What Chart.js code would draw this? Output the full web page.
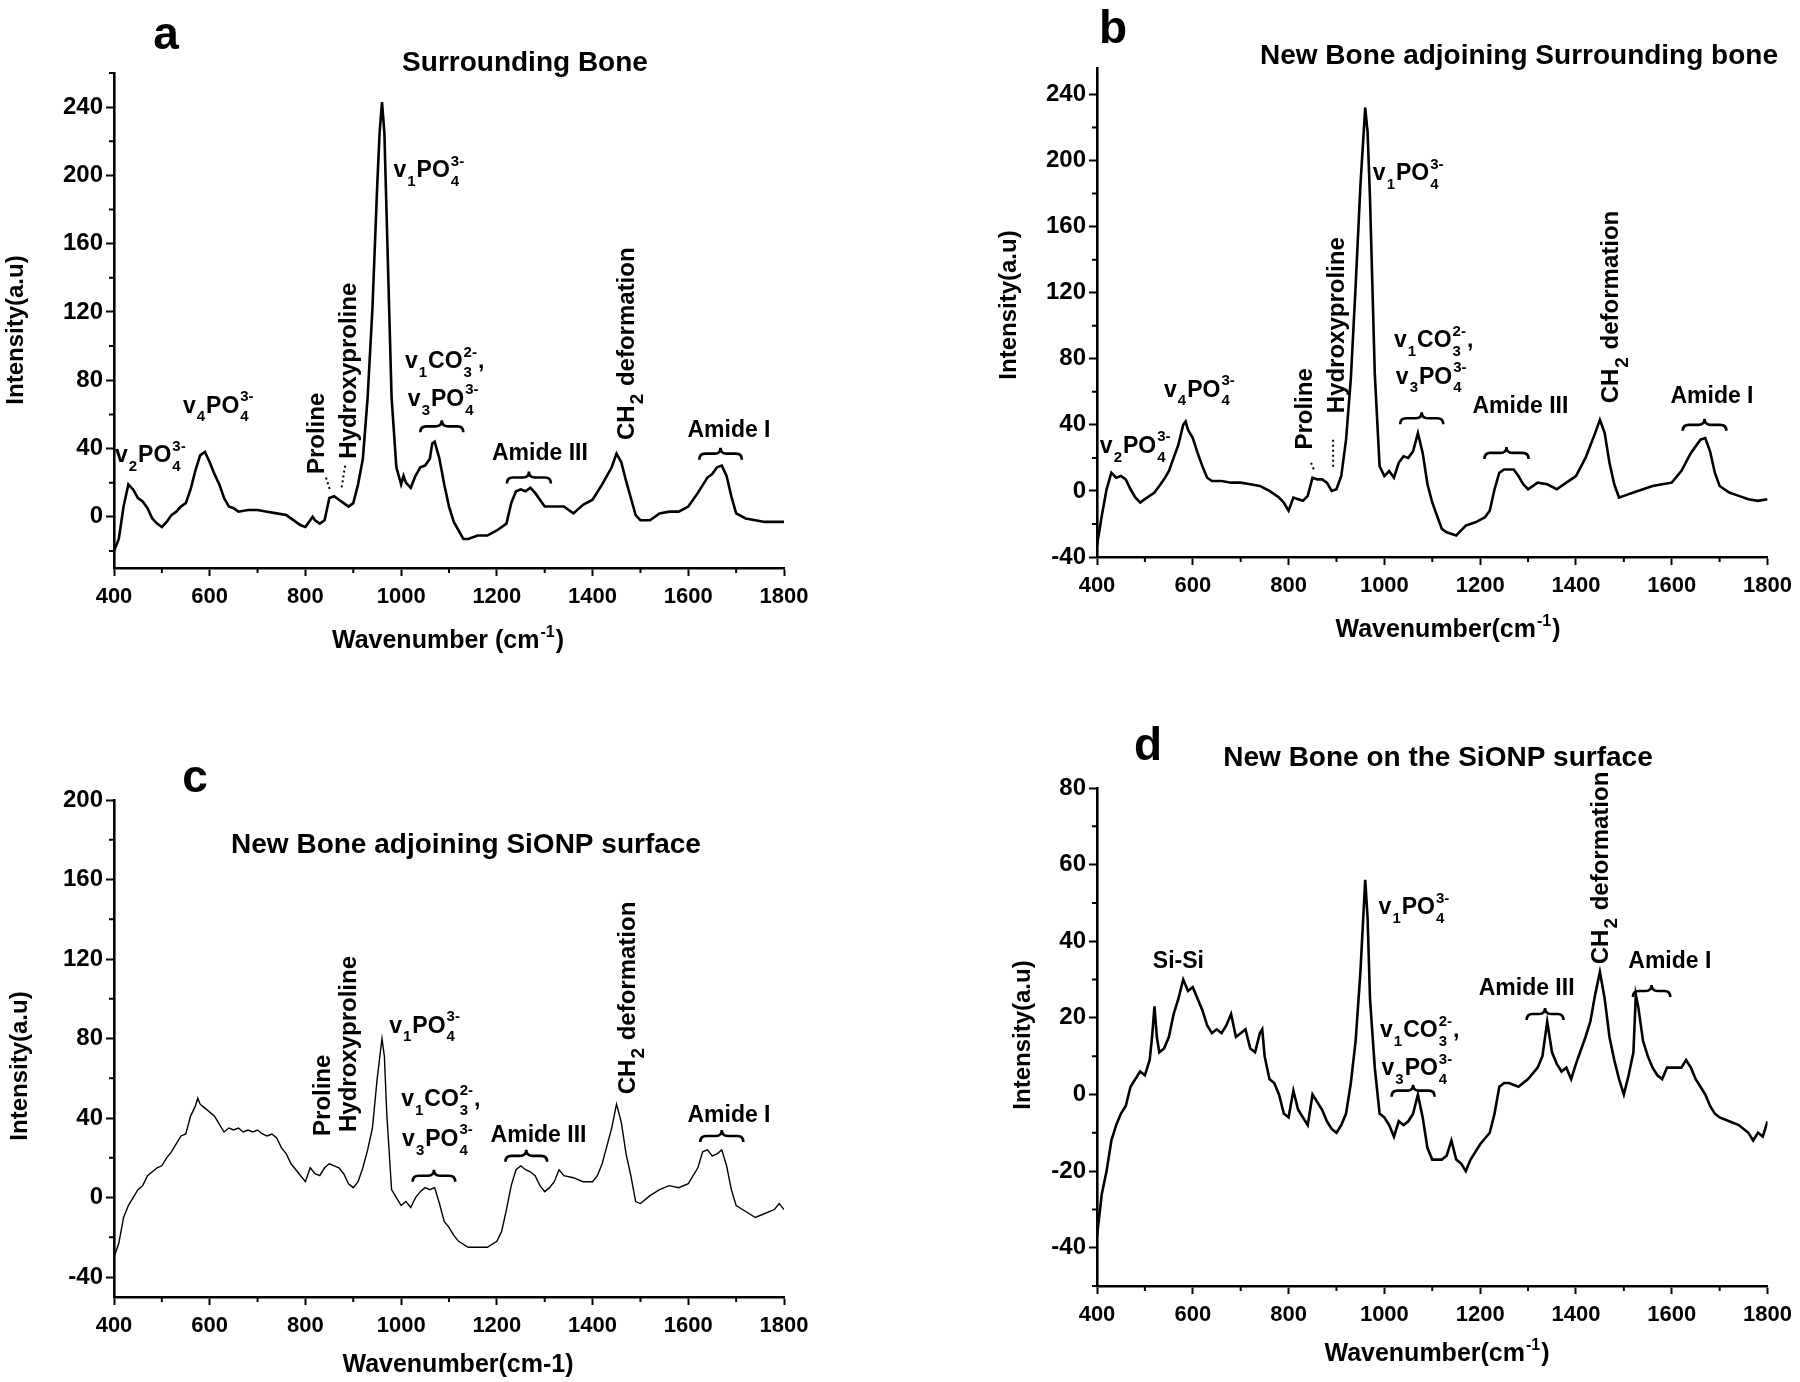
<!DOCTYPE html>
<html>
<head>
<meta charset="utf-8">
<title>Raman spectra</title>
<script src="https://cdn.jsdelivr.net/npm/chart.js@4.4.1/dist/chart.umd.min.js"></script>
<style>
    html, body { margin: 0; padding: 0; background: #fff; }
    #wrap { position: relative; width: 1800px; height: 1382px; background: #fff; }
    #wrap canvas { position: absolute; }
</style>
</head>
<body>
<div id="wrap">
    <canvas id="chartA" width="900" height="691" style="left:0;top:0"></canvas>
    <canvas id="chartB" width="900" height="691" style="left:900px;top:0"></canvas>
    <canvas id="chartC" width="900" height="691" style="left:0;top:691px"></canvas>
    <canvas id="chartD" width="900" height="691" style="left:900px;top:691px"></canvas>
</div>
<script>
// Spectra (wavenumber cm-1 / intensity a.u.)

// a - Surrounding Bone
const waveA = [400,410,420,430,440,450,460,470,480,490,
    500,510,520,530,540,550,560,570,580,590,
    600,610,620,630,640,650,660,680,700,720,
    740,760,780,790,800,810,815,820,830,840,
    850,860,870,880,890,900,910,920,930,940,
    950,955,960,965,970,980,990,1000,1005,1010,
    1020,1030,1040,1050,1060,1065,1070,1080,1090,1100,
    1110,1120,1130,1140,1160,1180,1200,1220,1230,1240,
    1250,1260,1270,1280,1290,1300,1320,1340,1360,1380,
    1400,1420,1440,1450,1460,1470,1480,1490,1500,1520,
    1540,1560,1580,1600,1620,1640,1650,1660,1670,1680,
    1690,1700,1720,1740,1760,1780,1800];
const intA = [-20,-13,6,19,16,11,9,5,-1,-4,
    -6,-3,1,3,6,8,16,27,36,38,
    32,25,19,11,6,5,3,4,4,3,
    2,1,-3,-5,-6,-2,0,-2,-4,-2,
    11,12,10,8,6,8,19,34,70,122,
    194,225,243,225,173,70,29,19,24,20,
    17,24,29,30,34,43,44,34,19,6,
    -3,-8,-13,-13,-11,-11,-8,-4,8,15,
    16,15,17,14,10,6,6,6,2,7,
    10,19,29,37,32,21,11,1,-2,-2,
    2,3,3,6,14,23,25,29,30,24,
    12,2,-1,-2,-3,-3,-3];

// b - New Bone adjoining Surrounding bone
const waveB = [400,410,420,430,440,450,460,470,480,490,
    500,520,530,540,550,560,570,580,585,590,
    600,610,620,630,640,660,680,700,720,740,
    760,780,790,800,810,820,830,840,850,860,
    870,880,890,900,910,920,930,940,950,960,
    965,970,980,990,1000,1010,1020,1030,1040,1050,
    1060,1070,1080,1090,1100,1110,1120,1130,1150,1170,
    1190,1210,1220,1230,1240,1250,1260,1270,1280,1290,
    1300,1320,1340,1360,1380,1400,1420,1440,1450,1460,
    1470,1480,1490,1500,1520,1540,1560,1580,1600,1620,
    1640,1660,1670,1680,1690,1700,1720,1740,1760,1780,
    1800];
const intB = [-33,-15,1,11,8,9,7,1,-4,-7,
    -5,-1,3,7,12,20,28,40,42,37,
    32,23,15,8,6,6,5,5,4,3,
    0,-4,-7,-12,-4,-5,-6,-3,8,7,
    7,5,0,1,9,31,68,124,185,232,
    217,177,71,15,9,12,8,17,21,20,
    24,35,23,4,-7,-15,-23,-25,-27,-21,
    -19,-16,-12,1,11,13,13,13,9,4,
    1,5,4,1,5,9,20,35,43,35,
    17,4,-4,-3,-1,1,3,4,5,12,
    23,31,32,24,11,3,-1,-3,-5,-6,
    -5];

// c - New Bone adjoining SiONP surface
const waveC = [400,410,420,430,440,450,460,470,480,490,
    500,510,520,530,540,550,560,570,575,580,
    590,600,610,620,630,640,650,660,670,680,
    690,700,710,720,730,740,750,760,770,780,
    790,800,810,820,830,840,850,860,870,880,
    890,900,910,920,930,940,950,960,965,970,
    980,990,1000,1010,1020,1030,1040,1050,1060,1070,
    1080,1090,1100,1110,1120,1140,1160,1180,1200,1210,
    1220,1230,1240,1250,1260,1270,1280,1290,1300,1310,
    1320,1330,1340,1360,1380,1400,1410,1420,1430,1440,
    1450,1460,1470,1480,1490,1500,1520,1540,1560,1580,
    1600,1620,1630,1640,1650,1660,1670,1680,1690,1700,
    1720,1740,1760,1780,1790,1800];
const intC = [-30,-23,-10,-4,0,4,6,11,13,15,
    16,20,23,27,31,32,41,46,50,47,
    45,43,41,37,33,35,34,35,33,34,
    33,34,32,31,32,30,25,22,17,14,
    11,8,15,12,11,15,17,16,15,12,
    7,5,8,15,24,35,60,80,71,42,
    4,0,-4,-2,-5,0,3,5,4,5,
    -3,-12,-15,-19,-22,-25,-25,-25,-22,-17,
    -6,6,14,16,14,13,11,6,3,5,
    8,14,11,10,8,8,11,17,26,35,
    47,38,22,11,-2,-3,1,4,6,5,
    7,15,23,24,21,22,24,16,4,-4,
    -7,-10,-8,-6,-3,-6];

// d - New Bone on the SiONP surface
const waveD = [400,410,420,430,440,450,460,470,480,490,
    500,510,515,520,525,530,540,550,560,570,
    580,590,600,610,620,630,640,650,660,670,
    680,690,700,710,720,730,740,745,750,760,
    770,780,790,800,810,820,830,840,850,860,
    870,880,890,900,910,920,930,940,950,960,
    965,970,980,990,1000,1010,1020,1030,1040,1050,
    1060,1070,1080,1090,1100,1120,1130,1140,1150,1160,
    1170,1180,1200,1220,1230,1240,1250,1260,1280,1300,
    1320,1330,1340,1350,1360,1370,1380,1390,1400,1420,
    1430,1440,1450,1460,1470,1480,1490,1500,1510,1520,
    1525,1530,1540,1550,1560,1570,1580,1590,1600,1620,
    1630,1640,1650,1660,1670,1680,1690,1700,1720,1740,
    1760,1770,1780,1790,1800];
const intD = [-37,-26,-20,-12,-8,-5,-3,2,4,6,
    5,9,15,23,15,11,12,15,21,25,
    30,27,28,25,22,18,16,17,16,18,
    21,15,16,17,12,11,16,17,10,4,
    3,0,-5,-6,1,-4,-6,-8,0,-2,
    -4,-7,-9,-10,-8,-5,3,14,32,56,
    46,25,7,-5,-6,-8,-11,-7,-8,-7,
    -5,0,-6,-14,-17,-17,-16,-12,-17,-18,
    -20,-17,-13,-10,-5,2,3,3,2,4,
    7,10,19,11,8,6,7,4,8,15,
    19,26,32,25,15,9,4,0,5,11,
    26,23,14,10,7,5,4,7,7,7,
    9,7,4,2,0,-3,-5,-6,-7,-8,
    -10,-12,-10,-11,-7];

// tick labels
const xTicks = [400, 600, 800, 1000, 1200, 1400, 1600, 1800];
const yTicksA = [0, 40, 80, 120, 160, 200, 240];
const yTicksB = [-40, 0, 40, 80, 120, 160, 200, 240];
const yTicksC = [-40, 0, 40, 80, 120, 160, 200];
const yTicksD = [-40, -20, 0, 20, 40, 60, 80];

const FONT = "'Liberation Sans', Arial, Helvetica, sans-serif";

// pieces for labels with sub/superscripts
function vPO4(n) {
    return [{ t: 'v' }, { t: String(n), k: 'sub' }, { t: 'PO' }, { t: '4', k: 'ss', sup: '3-' }];
}
const vCO3 = [{ t: 'v' }, { t: '1', k: 'sub' }, { t: 'CO' }, { t: '3', k: 'ss', sup: '2-' }, { t: ',' }];
const ch2 = [{ t: 'CH' }, { t: '2', k: 'sub', s: 19 }, { t: ' deformation' }];
function waveTitle(sp) {
    return [{ t: 'Wavenumber' + sp + '(cm', s: 25 }, { t: '-1', k: 'sup', s: 16 }, { t: ')', s: 25 }];
}
const txt = (t) => [{ t: t }];

// layout + annotations of each panel (annotation x/y are data values)
const PANELS = {
    chartA: {
        area: { left: 114, right: 784, top: 73, bottom: 568 },
        yMin: -30, yMax: 260, yTicks: yTicksA, yMinor: 20, line: 2.6,
        letter: { t: 'a', x: 166, y: 36 },
        title: { t: 'Surrounding Bone', x: 525, y: 63 },
        xTitle: { parts: waveTitle(' '), x: 448, y: 639 },
        yTitle: { t: 'Intensity(a.u)', x: 16, y: 330 },
        labels: [
            { x: 402, y: 32, parts: vPO4(2) },
            { x: 544, y: 61, parts: vPO4(4) },
            { x: 822, y: 25, parts: txt('Proline'), rot: true },
            { x: 888, y: 34, parts: txt('Hydroxyproline'), rot: true },
            { x: 984, y: 199, parts: vPO4(1) },
            { x: 1008, y: 87, parts: vCO3 },
            { x: 1014, y: 65, parts: vPO4(3) },
            { x: 1290, y: 33, parts: txt('Amide III'), align: 'center' },
            { x: 1470, y: 45, parts: ch2, rot: true },
            { x: 1685, y: 47, parts: txt('Amide I'), align: 'center' }
        ],
        braces: [[1040, 1130, 53], [1221, 1313, 23], [1623, 1712, 37]],
        dots: [[843, 23, 852, 15], [883, 30, 875, 16]]
    },
    chartB: {
        area: { left: 197, right: 870, top: 68, bottom: 557 },
        yMin: -40, yMax: 256, yTicks: yTicksB, yMinor: 20, line: 2.6,
        letter: { t: 'b', x: 213, y: 30 },
        title: { t: 'New Bone adjoining Surrounding bone', x: 619, y: 56 },
        xTitle: { parts: waveTitle(''), x: 548, y: 628 },
        yTitle: { t: 'Intensity(a.u)', x: 109, y: 305 },
        labels: [
            { x: 406, y: 23, parts: vPO4(2) },
            { x: 540, y: 57, parts: vPO4(4) },
            { x: 832, y: 25, parts: txt('Proline'), rot: true },
            { x: 898, y: 47, parts: txt('Hydroxyproline'), rot: true },
            { x: 976, y: 188, parts: vPO4(1) },
            { x: 1020, y: 87, parts: vCO3 },
            { x: 1024, y: 65, parts: vPO4(3) },
            { x: 1284, y: 47, parts: txt('Amide III'), align: 'center' },
            { x: 1472, y: 53, parts: ch2, rot: true },
            { x: 1684, y: 53, parts: txt('Amide I'), align: 'center' }
        ],
        braces: [[1033, 1123, 44], [1209, 1301, 23], [1623, 1714, 40]],
        dots: [[847, 17, 854, 12], [893, 31, 893, 14]]
    },
    chartC: {
        area: { left: 114, right: 784, top: 109, bottom: 606 },
        yMin: -50, yMax: 200, yTicks: yTicksC, yMinor: 20, line: 1.4,
        letter: { t: 'c', x: 195, y: 88 },
        title: { t: 'New Bone adjoining SiONP surface', x: 466, y: 154 },
        xTitle: { parts: [{ t: 'Wavenumber(cm-1)', s: 25 }], x: 458, y: 672 },
        yTitle: { t: 'Intensity(a.u)', x: 20, y: 375 },
        labels: [
            { x: 834, y: 31, parts: txt('Proline'), rot: true },
            { x: 888, y: 33, parts: txt('Hydroxyproline'), rot: true },
            { x: 975, y: 83, parts: vPO4(1) },
            { x: 1000, y: 46, parts: vCO3 },
            { x: 1002, y: 26, parts: vPO4(3) },
            { x: 1287, y: 28, parts: txt('Amide III'), align: 'center' },
            { x: 1472, y: 52, parts: ch2, rot: true },
            { x: 1685, y: 38, parts: txt('Amide I'), align: 'center' }
        ],
        braces: [[1024, 1113, 11], [1218, 1305, 21], [1625, 1715, 31]],
        dots: []
    },
    chartD: {
        area: { left: 197, right: 870, top: 97, bottom: 595 },
        yMin: -50, yMax: 80, yTicks: yTicksD, yMinor: 10, line: 2.6,
        letter: { t: 'd', x: 248, y: 56 },
        title: { t: 'New Bone on the SiONP surface', x: 538, y: 67 },
        xTitle: { parts: waveTitle(''), x: 537, y: 661 },
        yTitle: { t: 'Intensity(a.u)', x: 123, y: 344 },
        labels: [
            { x: 570, y: 33, parts: txt('Si-Si'), align: 'center' },
            { x: 988, y: 47, parts: vPO4(1) },
            { x: 991, y: 15, parts: vCO3 },
            { x: 994, y: 5, parts: vPO4(3) },
            { x: 1297, y: 26, parts: txt('Amide III'), align: 'center' },
            { x: 1450, y: 34, parts: ch2, rot: true },
            { x: 1596, y: 33, parts: txt('Amide I'), align: 'center' }
        ],
        braces: [[1015, 1105, 1], [1297, 1374, 21], [1519, 1597, 27]],
        dots: []
    }
};

// draw text made of normal / sub / sup pieces, y is the baseline
function drawRich(ctx, parts, x, y, align, size) {
    size = size || 23;
    const small = Math.round(size * 0.66);
    const pieces = parts.map(p => {
        const k = p.k || 'n';
        const fs = p.s || (k === 'n' ? size : small);
        ctx.font = 'bold ' + fs + 'px ' + FONT;
        let w = ctx.measureText(p.t).width;
        if (p.sup) w = Math.max(w, ctx.measureText(p.sup).width);
        return { p: p, k: k, fs: fs, w: k === 'n' ? w : w + 2 };
    });
    const total = pieces.reduce((s, q) => s + q.w, 0);
    let cx = align === 'center' ? x - total / 2 : x;
    ctx.textAlign = 'left';
    ctx.textBaseline = 'alphabetic';
    pieces.forEach(q => {
        ctx.font = 'bold ' + q.fs + 'px ' + FONT;
        if (q.k === 'n') {
            ctx.fillText(q.p.t, cx, y);
        } else if (q.k === 'sup') {
            ctx.fillText(q.p.t, cx + 1, y - size * 0.45);
        } else {
            ctx.fillText(q.p.t, cx + 1, y + size * 0.38);
            if (q.p.sup) ctx.fillText(q.p.sup, cx + 1, y - size * 0.5);
        }
        cx += q.w;
    });
}

// curly brace, tip pointing up
function drawBrace(ctx, x1, x2, y) {
    const xm = (x1 + x2) / 2, h = 6;
    ctx.beginPath();
    ctx.moveTo(x1, y + h);
    ctx.quadraticCurveTo(x1, y, x1 + h, y);
    ctx.lineTo(xm - h, y);
    ctx.quadraticCurveTo(xm, y, xm, y - h);
    ctx.quadraticCurveTo(xm, y, xm + h, y);
    ctx.lineTo(x2 - h, y);
    ctx.quadraticCurveTo(x2, y, x2, y + h);
    ctx.stroke();
}

// minor ticks, titles and peak annotations
const decorPlugin = {
    id: 'decor',
    afterDraw(chart) {
        const cfg = PANELS[chart.canvas.id];
        const ctx = chart.ctx;
        const sx = chart.scales.x, sy = chart.scales.y;
        const area = chart.chartArea;
        ctx.save();
        ctx.fillStyle = '#000';
        ctx.strokeStyle = '#000';

        // minor ticks
        ctx.lineWidth = 2;
        ctx.beginPath();
        for (let v = 500; v < 1800; v += 200) {
            const px = sx.getPixelForValue(v);
            ctx.moveTo(px, area.bottom);
            ctx.lineTo(px, area.bottom + 5);
        }
        const step = cfg.yMinor;
        for (let v = Math.ceil(cfg.yMin / step) * step; v <= cfg.yMax; v += step) {
            if (cfg.yTicks.includes(v)) continue;
            const py = sy.getPixelForValue(v);
            ctx.moveTo(area.left, py);
            ctx.lineTo(area.left - 5, py);
        }
        ctx.stroke();

        // panel letter and title
        ctx.textAlign = 'center';
        ctx.textBaseline = 'middle';
        ctx.font = 'bold 46px ' + FONT;
        ctx.fillText(cfg.letter.t, cfg.letter.x, cfg.letter.y);
        ctx.font = 'bold 28px ' + FONT;
        ctx.fillText(cfg.title.t, cfg.title.x, cfg.title.y);

        // axis titles
        drawRich(ctx, cfg.xTitle.parts, cfg.xTitle.x, cfg.xTitle.y + 9, 'center', 25);
        ctx.save();
        ctx.translate(cfg.yTitle.x, cfg.yTitle.y);
        ctx.rotate(-Math.PI / 2);
        ctx.textAlign = 'center';
        ctx.textBaseline = 'middle';
        ctx.font = 'bold 24px ' + FONT;
        ctx.fillText(cfg.yTitle.t, 0, 0);
        ctx.restore();

        // peak labels
        cfg.labels.forEach(l => {
            const px = sx.getPixelForValue(l.x);
            const py = sy.getPixelForValue(l.y);
            if (l.rot) {
                ctx.save();
                ctx.translate(px, py);
                ctx.rotate(-Math.PI / 2);
                drawRich(ctx, l.parts, 0, 8, 'left', 24);
                ctx.restore();
            } else {
                drawRich(ctx, l.parts, px, py, l.align || 'left', 23);
            }
        });

        // braces
        ctx.lineWidth = 2.6;
        cfg.braces.forEach(b => {
            drawBrace(ctx, sx.getPixelForValue(b[0]), sx.getPixelForValue(b[1]), sy.getPixelForValue(b[2]));
        });

        // dotted leader lines
        ctx.lineWidth = 2;
        ctx.setLineDash([2, 3]);
        cfg.dots.forEach(d => {
            ctx.beginPath();
            ctx.moveTo(sx.getPixelForValue(d[0]), sy.getPixelForValue(d[1]));
            ctx.lineTo(sx.getPixelForValue(d[2]), sy.getPixelForValue(d[3]));
            ctx.stroke();
        });
        ctx.restore();
    }
};

function makeChart(id, waves, values) {
    const cfg = PANELS[id];
    const area = cfg.area;
    const points = waves.map((w, i) => ({ x: w, y: values[i] }));
    return new Chart(document.getElementById(id), {
        type: 'line',
        data: {
            datasets: [{
                data: points,
                borderColor: '#000',
                borderWidth: cfg.line,
                pointRadius: 0,
                tension: 0,
                fill: false
            }]
        },
        options: {
            responsive: false,
            animation: false,
            events: [],
            layout: { padding: { left: 0, top: area.top, right: 900 - area.right, bottom: 0 } },
            plugins: { legend: { display: false }, tooltip: { enabled: false } },
            scales: {
                x: {
                    type: 'linear',
                    min: 400,
                    max: 1800,
                    afterBuildTicks: (s) => { s.ticks = xTicks.map(v => ({ value: v })); },
                    ticks: {
                        color: '#000',
                        font: { family: FONT, size: 22, weight: 'bold' },
                        padding: 8,
                        maxRotation: 0,
                        autoSkip: false,
                        callback: (v) => String(v)
                    },
                    grid: { drawOnChartArea: false, tickLength: 8, tickColor: '#000', tickWidth: 2 },
                    border: { color: '#000', width: 2.6 },
                    afterFit: (s) => { s.height = 691 - area.bottom; }
                },
                y: {
                    type: 'linear',
                    min: cfg.yMin,
                    max: cfg.yMax,
                    afterBuildTicks: (s) => { s.ticks = cfg.yTicks.map(v => ({ value: v })); },
                    ticks: {
                        color: '#000',
                        font: { family: FONT, size: 24, weight: 'bold' },
                        padding: 3,
                        autoSkip: false,
                        callback: (v) => String(v)
                    },
                    grid: { drawOnChartArea: false, tickLength: 8, tickColor: '#000', tickWidth: 2 },
                    border: { color: '#000', width: 2.6 },
                    afterFit: (s) => { s.width = area.left; }
                }
            }
        },
        plugins: [decorPlugin]
    });
}

makeChart('chartA', waveA, intA);
makeChart('chartB', waveB, intB);
makeChart('chartC', waveC, intC);
makeChart('chartD', waveD, intD);
</script>
</body>
</html>
